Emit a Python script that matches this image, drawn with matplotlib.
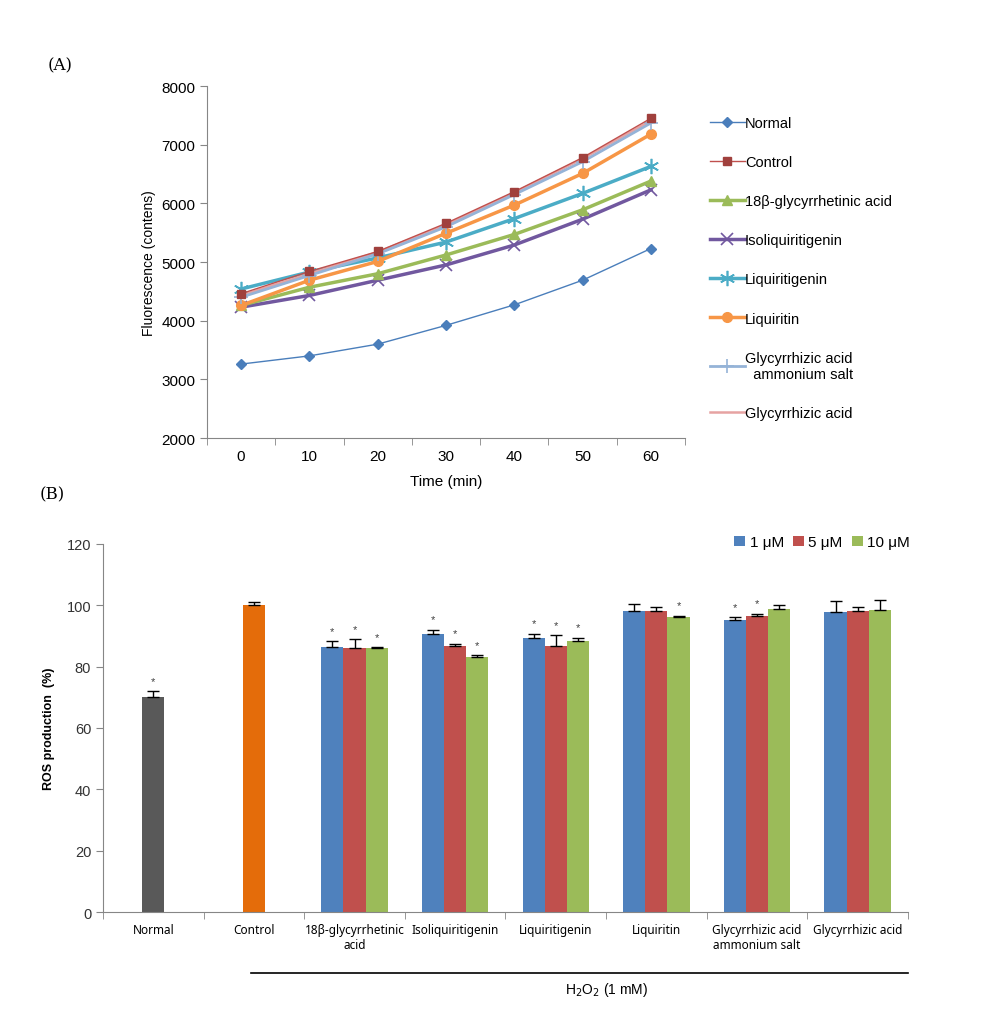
import matplotlib
matplotlib.use("Agg")
import matplotlib.pyplot as plt
import numpy as np
from matplotlib.transforms import blended_transform_factory

# ---------------- Panel A data ----------------
time_min = [0, 10, 20, 30, 40, 50, 60]
series_names = ["Normal", "Control", "18β-glycyrrhetinic acid", "Isoliquiritigenin",
                "Liquiritigenin", "Liquiritin", "Glycyrrhizic acid\n  ammonium salt",
                "Glycyrrhizic acid"]
normal_fl = [3260, 3400, 3600, 3920, 4270, 4690, 5230]
control_fl = [4460, 4840, 5180, 5660, 6200, 6780, 7450]
glycyrrhetinic_fl = [4260, 4570, 4800, 5120, 5470, 5890, 6380]
isoliq_fl = [4230, 4430, 4690, 4950, 5290, 5730, 6230]
liquiritigenin_fl = [4540, 4830, 5070, 5340, 5740, 6170, 6630]
liquiritin_fl = [4260, 4690, 5010, 5490, 5970, 6510, 7180]
ga_amm_fl = [4400, 4770, 5140, 5600, 6150, 6710, 7370]
ga_fl = [4430, 4800, 5170, 5630, 6180, 6760, 7410]

# ---------------- Panel B data ----------------
groups = ["Normal", "Control", "18β-glycyrrhetinic\nacid", "Isoliquiritigenin",
          "Liquiritigenin", "Liquiritin", "Glycyrrhizic acid\nammonium salt",
          "Glycyrrhizic acid"]
normal_ros, normal_err = 70.2, 1.8
control_ros, control_err = 100.0, 1.0
conc_labels = ["1 μM", "5 μM", "10 μM"]
ros_1uM = [86.3, 90.7, 89.3, 98.0, 95.1, 97.7]
ros_5uM = [86.0, 86.7, 86.8, 98.0, 96.6, 98.0]
ros_10uM = [86.0, 83.0, 88.3, 96.2, 98.8, 98.4]
err_1uM = [2.0, 1.3, 1.5, 2.5, 1.0, 3.8]
err_5uM = [2.9, 0.8, 3.4, 1.5, 0.7, 1.5]
err_10uM = [0.3, 0.7, 1.2, 0.3, 1.4, 3.4]
sig_1uM = [True, True, True, False, True, False]
sig_5uM = [True, True, True, False, True, False]
sig_10uM = [True, True, True, True, False, False]
normal_sig = True

plt.rcParams['font.family'] = ['Liberation Sans', 'DejaVu Sans']

fig = plt.figure(figsize=(9.97, 10.12), dpi=100)

# ================= Panel A =================
axA = fig.add_axes([0.2076, 0.5662, 0.4795, 0.3478])
styles = [
    dict(color="#4a7ebb", marker="D", ms=5, lw=1.0),
    dict(color="#c0504d", marker="s", ms=6, lw=1.0, mfc="#a0403d", mec="#a0403d"),
    dict(color="#9bbb59", marker="^", ms=7, lw=2.5),
    dict(color="#71589f", marker="x", ms=8, lw=2.5, mew=1.2),
    dict(color="#4bacc6", marker=(6, 2, 0), ms=11, lw=2.5, mew=1.2),
    dict(color="#f79646", marker="o", ms=7, lw=2.5),
    dict(color="#95b3d7", marker="+", ms=10, lw=2.0, mew=1.2),
    dict(color="#e6a3a2", marker=None, lw=1.8),
]
all_series = [normal_fl, control_fl, glycyrrhetinic_fl, isoliq_fl,
              liquiritigenin_fl, liquiritin_fl, ga_amm_fl, ga_fl]
draw_order = [0, 3, 2, 4, 5, 7, 6, 1]
handles = [None] * 8
for i in draw_order:
    h, = axA.plot(time_min, all_series[i], label=series_names[i], **styles[i])
    handles[i] = h

axA.set_xlim(-5, 65)
axA.set_ylim(2000, 8000)
axA.set_yticks(np.arange(2000, 8001, 1000))
axA.set_xticks(time_min)
axA.set_xticks(np.arange(-5, 66, 10), minor=True)
axA.tick_params(axis="x", which="major", length=0, labelsize=11, pad=8)
axA.tick_params(axis="x", which="minor", length=5, color="#868686")
axA.tick_params(axis="y", length=5, color="#868686", labelsize=11)
for s in ["top", "right"]:
    axA.spines[s].set_visible(False)
for s in ["left", "bottom"]:
    axA.spines[s].set_color("#868686")
axA.set_ylabel("Fluorescence (contens)", fontsize=10)
axA.set_xlabel("Time (min)", fontsize=11, labelpad=8)

leg = axA.legend(handles=handles, loc="upper left", bbox_to_anchor=(1.04, 0.931),
                 frameon=False, fontsize=10.5, labelspacing=1.72, handlelength=2.4,
                 handletextpad=0.0, borderaxespad=0)

fig.text(0.048, 0.93, "(A)", fontsize=12, family="DejaVu Serif")
fig.text(0.040, 0.507, "(B)", fontsize=12, family="DejaVu Serif")

# ================= Panel B =================
axB = fig.add_axes([0.1033, 0.0978, 0.8074, 0.3637])
xg = np.arange(len(groups))
bw = 0.22
err_kw = dict(capsize=4, elinewidth=1, capthick=1, ecolor="black")
axB.bar(xg[0], normal_ros, bw, color="#595959")
axB.errorbar(xg[0], normal_ros, yerr=[[0], [normal_err]], fmt="none", **err_kw)
axB.bar(xg[1], control_ros, bw, color="#e46c0a")
axB.errorbar(xg[1], control_ros, yerr=[[0], [control_err]], fmt="none", **err_kw)

xt = xg[2:]
cols = ["#4f81bd", "#c0504d", "#9bbb59"]
vals = [ros_1uM, ros_5uM, ros_10uM]
errs = [err_1uM, err_5uM, err_10uM]
sigs = [sig_1uM, sig_5uM, sig_10uM]
for k in range(3):
    xs = xt + (k - 1) * bw
    axB.bar(xs, vals[k], bw, color=cols[k], label=conc_labels[k])
    axB.errorbar(xs, vals[k], yerr=[np.zeros(len(xs)), errs[k]], fmt="none", **err_kw)
    for x, v, e, s in zip(xs, vals[k], errs[k], sigs[k]):
        if s:
            axB.text(x, v + e + 1.8, "*", ha="center", va="bottom", fontsize=8, color="#404040")
if normal_sig:
    axB.text(xg[0], normal_ros + normal_err + 1.8, "*", ha="center", va="bottom",
             fontsize=8, color="#404040")

axB.set_xlim(-0.5, len(groups) - 0.5)
axB.set_ylim(0, 120)
axB.set_yticks(np.arange(0, 121, 20))
axB.set_xticks(xg)
axB.set_xticklabels(groups, fontsize=8.5, family=["Noto Sans", "DejaVu Sans"])
axB.set_xticks(np.arange(-0.5, len(groups), 1), minor=True)
axB.tick_params(axis="x", which="major", length=0, pad=8)
axB.tick_params(axis="x", which="minor", length=5, color="#868686")
axB.tick_params(axis="y", length=5, color="#868686", labelsize=10.5, labelcolor="#333333")
for s in ["top", "right"]:
    axB.spines[s].set_visible(False)
for s in ["left", "bottom"]:
    axB.spines[s].set_color("#868686")
axB.set_ylabel("ROS production  (%)", fontsize=9, fontweight="bold", labelpad=8)

axB.legend(loc="upper right", bbox_to_anchor=(1.01, 1.04), ncol=3, frameon=False,
           fontsize=11, handlelength=0.7, handleheight=0.7, handletextpad=0.3,
           columnspacing=0.6, borderaxespad=0)

trans = blended_transform_factory(axB.transData, axB.transAxes)
axB.plot([0.97, 7.5], [-0.165, -0.165], color="black", lw=1.2, transform=trans, clip_on=False)
axB.text(4.5, -0.21, "H$_2$O$_2$ (1 mM)", transform=trans, ha="center", va="center",
         fontsize=10)

fig.savefig("out.png", dpi=100)
